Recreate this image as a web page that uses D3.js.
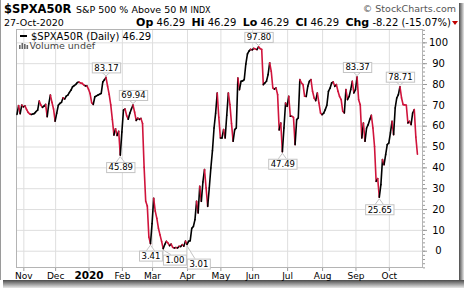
<!DOCTYPE html>
<html>
<head>
<meta charset="utf-8">
<script src="https://cdn.jsdelivr.net/npm/d3@7"></script>
<style>
  body { margin: 0; background: #fff; }
  svg { display: block; font-family: "DejaVu Sans", Verdana, sans-serif; }
</style>
</head>
<body>
<svg id="chart" width="464" height="288"></svg>
<script>
// first trading day on the chart and the market holidays inside the window
var startDate = "2019-10-28";
var holidays = ["2019-11-28", "2019-12-25", "2020-01-01", "2020-01-20", "2020-02-17",
  "2020-04-10", "2020-05-25", "2020-07-03", "2020-09-07"];
var monthNames = ["Jan", "Feb", "Mar", "Apr", "May", "Jun", "Jul", "Aug", "Sep", "Oct", "Nov", "Dec"];
var yTicks = [0, 10, 20, 30, 40, 50, 60, 70, 80, 90, 100];

// daily close of $SPXA50R, one value per trading day
var values = [
  65.4, 69.6, 65.8, 69.9, 69.0, 69.5, 67.8, 66.4, 65.7, 65.4,
  65.6, 65.9, 66.8, 67.5, 71.8, 69.9, 68.8, 69.4, 70.2, 64.3,
  70.5, 74.7, 71.2, 68.0, 62.2, 66.0, 69.8, 70.7, 71.2, 73.4,
  72.8, 74.2, 74.7, 76.0, 77.1, 78.7, 79.2, 79.8, 80.7, 80.9,
  80.5, 80.3, 79.6, 79.1, 79.1, 77.5, 75.4, 71.0, 70.2, 73.9,
  74.3, 74.7, 75.1, 75.5, 81.0, 82.0, 83.17, 79.0, 75.0, 70.0,
  63.0, 55.5, 58.5, 55.3, 57.3, 45.89, 57.0, 67.5, 68.0, 64.8,
  63.1, 66.0, 68.0, 69.94, 66.5, 62.5, 63.6, 63.0, 63.5, 61.0,
  40.0, 23.7, 21.5, 6.5, 3.41, 13.0, 25.2, 19.0, 15.5, 10.8,
  7.6, 4.5, 1.00, 3.0, 4.5, 3.7, 2.4, 3.2, 1.6, 1.3,
  1.5, 1.3, 2.1, 2.0, 2.9, 2.2, 4.6, 3.01, 4.5, 4.8,
  10.8, 11.6, 14.9, 23.7, 18.1, 30.9, 23.7, 33.0, 38.9, 30.1,
  21.3, 30.1, 39.7, 48.0, 58.9, 66.0, 75.7, 64.0, 54.1, 54.1,
  58.1, 54.1, 65.0, 75.7, 70.1, 61.0, 52.5, 58.1, 58.9, 82.9,
  77.3, 81.3, 81.5, 82.1, 89.6, 94.4, 95.8, 96.6, 96.4, 97.1,
  96.8, 96.5, 97.80, 97.0, 96.6, 79.7, 80.5, 81.3, 84.5, 90.2,
  86.1, 78.1, 77.5, 78.1, 74.9, 58.0, 61.3, 47.49, 58.9, 70.9,
  69.3, 74.1, 64.5, 64.5, 64.0, 50.9, 62.9, 63.7, 82.1, 80.5,
  79.7, 74.1, 74.0, 78.9, 81.3, 82.1, 76.5, 73.3, 72.0, 75.7,
  70.9, 66.1, 65.3, 66.0, 67.7, 69.8, 76.5, 78.0, 80.5, 81.0,
  78.9, 79.7, 76.5, 74.0, 72.5, 66.9, 66.1, 77.3, 72.5, 74.0,
  77.3, 81.3, 75.7, 77.3, 83.37, 72.5, 70.1, 54.1, 61.3, 52.5,
  58.9, 60.5, 63.0, 65.0, 58.9, 50.0, 33.3, 34.6, 25.65, 31.7,
  43.7, 41.3, 46.1, 50.9, 51.7, 56.5, 62.1, 55.7, 68.5, 73.3,
  74.9, 78.71, 73.3, 70.1, 70.0, 69.8, 61.3, 62.1, 60.5, 66.1,
  67.7, 54.51, 46.29
];

// trading days that carry a value box
var markIdx = [56, 65, 73, 84, 92, 107, 152, 167, 214, 228, 241];

var red = "#d0143c";
var svg = d3.select("#chart");

// trading calendar -> first trading day of each month
var parse = d3.timeParse("%Y-%m-%d"), fmt = d3.timeFormat("%Y-%m-%d");
var dates = [], day = parse(startDate);
while (dates.length < values.length) {
  var wd = day.getDay();
  if (wd > 0 && wd < 6 && holidays.indexOf(fmt(day)) < 0) dates.push(new Date(day));
  day = d3.timeDay.offset(day, 1);
}
var monthIdx = [];
dates.forEach(function (dt, i) {
  if (i > 0 && dt.getMonth() !== dates[i - 1].getMonth()) monthIdx.push(i);
});

var plotL = 16, plotR = 423, plotT = 29, plotB = 268;
var x = d3.scaleLinear().domain([-0.63, 255.5]).range([plotL, plotR]);
var y = d3.scaleLinear().domain([-8.3, 106.4]).range([plotB, plotT]);

// page shadow
var defs = svg.append("defs");
var gr = defs.append("linearGradient").attr("id", "shR").attr("x1", 0).attr("x2", 1).attr("y1", 0).attr("y2", 0);
gr.append("stop").attr("offset", 0).attr("stop-color", "#4a4a4a");
gr.append("stop").attr("offset", 1).attr("stop-color", "#e8e8e8");
var gb = defs.append("linearGradient").attr("id", "shB").attr("x1", 0).attr("x2", 0).attr("y1", 0).attr("y2", 1);
gb.append("stop").attr("offset", 0).attr("stop-color", "#4a4a4a");
gb.append("stop").attr("offset", 1).attr("stop-color", "#e8e8e8");
svg.append("rect").attr("x", 459).attr("y", 3).attr("width", 5).attr("height", 285).attr("fill", "url(#shR)");
svg.append("rect").attr("x", 3).attr("y", 280).attr("width", 461).attr("height", 8).attr("fill", "url(#shB)");
svg.append("line").attr("x1", 0.5).attr("x2", 0.5).attr("y1", 0).attr("y2", 280).attr("stroke", "#9a9a9a");

// header
svg.append("text").attr("x", 4).attr("y", 13).attr("font-size", "11.5px").attr("font-weight", "bold")
  .text("$SPXA50R");
var sub = svg.append("text").attr("x", 76).attr("y", 13).attr("font-size", "9.5px");
sub.append("tspan").text("S&P 500 % Above 50 M ");
sub.append("tspan").attr("font-size", "8px").text("INDX");
svg.append("text").attr("x", 456).attr("y", 12).attr("font-size", "9.5px").attr("fill", "#555")
  .attr("text-anchor", "end").text("\u00a9 StockCharts.com");
svg.append("text").attr("x", 4).attr("y", 26).attr("font-size", "9.5px").text("27-Oct-2020");

var quote = svg.append("text").attr("x", 451).attr("y", 26).attr("font-size", "10px")
  .attr("text-anchor", "end").attr("xml:space", "preserve");
[["Op", " 46.29  "], ["Hi", " 46.29  "], ["Lo", " 46.29  "], ["Cl", " 46.29  "], ["Chg", " -8.22 (-15.07%)"]]
  .forEach(function (p) {
    quote.append("tspan").attr("font-weight", "bold").attr("font-size", "11px").text(p[0]);
    quote.append("tspan").text(p[1]);
  });
svg.append("path").attr("d", "M452,21 L458,21 L455,25 Z").attr("fill", "#c00000");

// grid
var gx = svg.append("g").attr("transform", "translate(0," + plotB + ")")
  .call(d3.axisBottom(x).tickValues(monthIdx).tickSize(-(plotB - plotT)).tickFormat(""));
gx.select(".domain").remove();
gx.selectAll("line").attr("stroke", "#dedede");

var gy = svg.append("g").attr("transform", "translate(" + plotL + ",0)")
  .call(d3.axisLeft(y).tickValues(yTicks).tickSize(-(plotR - plotL)).tickFormat(""));
gy.select(".domain").remove();
gy.selectAll("line").attr("stroke", "#dedede");

// frame
svg.append("rect").attr("x", plotL + 0.5).attr("y", plotT + 0.5)
  .attr("width", plotR - plotL - 1).attr("height", plotB - plotT - 1)
  .attr("fill", "none").attr("stroke", "#b4b4b4");

// right axis, minor ticks then labelled majors
var minor = svg.append("g").attr("transform", "translate(" + plotR + ",0)")
  .call(d3.axisRight(y).tickValues(d3.range(-8, 107, 2)).tickSize(2).tickFormat(""));
minor.select(".domain").remove();
minor.selectAll("line").attr("stroke", "#999");

var ya = svg.append("g").attr("transform", "translate(" + plotR + ",0)")
  .call(d3.axisRight(y).tickValues(yTicks).tickSize(4));
ya.select(".domain").remove();
ya.selectAll("line").attr("stroke", "#999");
ya.selectAll("text").attr("x", 15.5).attr("text-anchor", "middle")
  .attr("font-family", "DejaVu Sans, Verdana, sans-serif").attr("font-size", "10px").attr("fill", "#000");

// bottom axis labels
var xa = svg.append("g").attr("transform", "translate(0," + plotB + ")")
  .call(d3.axisBottom(x).tickValues(monthIdx).tickSize(3)
    .tickFormat(function (i) {
      var m = dates[i].getMonth();
      return m === 0 ? String(dates[i].getFullYear()) : monthNames[m];
    }));
xa.select(".domain").remove();
xa.selectAll("line").attr("stroke", "#999");
xa.selectAll("text").attr("y", 11.3).attr("dy", 0)
  .attr("font-family", "DejaVu Sans, Verdana, sans-serif").attr("fill", "#000")
  .attr("font-weight", function (i) { return dates[i].getMonth() === 0 ? "bold" : "normal"; })
  .attr("font-size", function (i) { return dates[i].getMonth() === 0 ? "10.5px" : "9px"; });

// legend
svg.append("line").attr("x1", 20).attr("x2", 27).attr("y1", 36).attr("y2", 36)
  .attr("stroke", "#000").attr("stroke-width", 2);
svg.append("text").attr("x", 31).attr("y", 39.5).attr("font-size", "10px")
  .text("$SPXA50R (Daily) 46.29");
svg.append("g").selectAll("rect").data([[19, 45, 4], [21.5, 43, 6], [24, 44, 5], [26.5, 45, 4]]).join("rect")
  .attr("x", function (b) { return b[0]; }).attr("y", function (b) { return b[1]; })
  .attr("width", 1.6).attr("height", function (b) { return b[2]; }).attr("fill", "#666");
svg.append("text").attr("x", 29.5).attr("y", 49).attr("font-size", "9.5px").attr("fill", "#444")
  .text("Volume undef");

// price line, black on up days and red on down days
svg.append("g").selectAll("line").data(d3.range(values.length - 1)).join("line")
  .attr("x1", function (i) { return x(i); })
  .attr("y1", function (i) { return y(values[i]); })
  .attr("x2", function (i) { return x(i + 1); })
  .attr("y2", function (i) { return y(values[i + 1]); })
  .attr("stroke", function (i) { return values[i + 1] < values[i] ? red : "#000"; })
  .attr("stroke-width", 1.6)
  .attr("stroke-linecap", "round");

// value boxes at swing highs and lows
var placed = [];
var ann = svg.append("g").attr("font-size", "8.5px");
markIdx.forEach(function (i) {
  var v = values[i];
  var high = v >= values[i - 1] && v >= values[i + 1];
  var px = x(i), py = y(v);
  var t = ann.append("text").attr("text-anchor", "middle").text(v.toFixed(2));
  var w = t.node().getComputedTextLength() + 4, h = 10;
  var bx = px - w / 2, by = high ? py - 5 - h : py + 7;
  placed.forEach(function (p) {
    if (bx < p.x + p.w && bx + w > p.x && by < p.y + p.h && by + h > p.y) {
      bx = p.x + p.w + 1;
      by = p.y + 4;
    }
  });
  placed.push({x: bx, y: by, w: w, h: h});
  var edge = high ? by + h : by;
  var tip = high ? py - 1.5 : py + 1.5;
  var cx = Math.max(bx + 4, Math.min(bx + w - 4, px));
  ann.insert("path", "text")
    .attr("d", "M" + (cx - 4) + "," + edge + "L" + px + "," + tip + "L" + (cx + 4) + "," + edge)
    .attr("fill", "#fff").attr("stroke", "#c4c4c4");
  ann.insert("rect", "text").attr("x", bx + 0.5).attr("y", by + 0.5).attr("width", w).attr("height", h)
    .attr("fill", "#fff").attr("stroke", "#c4c4c4");
  t.attr("x", bx + 0.5 + w / 2).attr("y", by + 8.3);
});
</script>
</body>
</html>
